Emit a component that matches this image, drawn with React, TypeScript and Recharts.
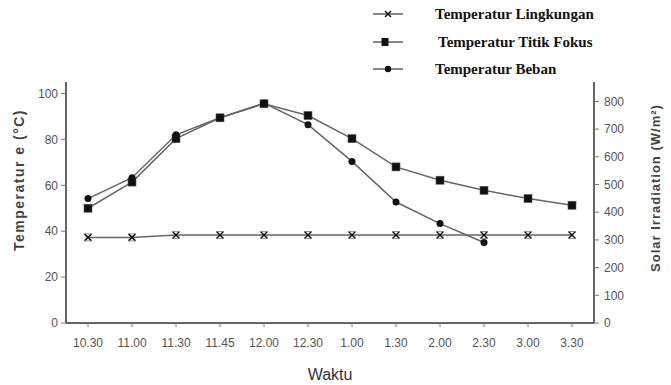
import React from 'react';
import { LineChart, Line, XAxis, YAxis, Legend } from 'recharts';

const categories = ['10.30', '11.00', '11.30', '11.45', '12.00', '12.30', '1.00', '1.30', '2.00', '2.30', '3.00', '3.30'];
const lingkungan = [37.3, 37.3, 38.3, 38.3, 38.3, 38.3, 38.3, 38.3, 38.3, 38.3, 38.3, 38.3];
const titikFokus = [50, 61.4, 80.3, 89.4, 95.5, 90.4, 80.3, 68, 62.2, 57.8, 54.2, 51.3];
const beban: (number | null)[] = [54.2, 63.3, 82, 89.4, 95.8, 86.4, 70.4, 52.7, 43.3, 35.1, null, null];
const leftTicks = [0, 20, 40, 60, 80, 100];
const rightTicks = [0, 100, 200, 300, 400, 500, 600, 700, 800];
const seriesNames = ['Temperatur Lingkungan', 'Temperatur Titik Fokus', 'Temperatur Beban'];

const data = categories.map((c, i) => ({
  waktu: c,
  lingkungan: lingkungan[i],
  titikFokus: titikFokus[i],
  beban: beban[i],
}));

const SANS = '"Liberation Sans", Arial, sans-serif';
const SERIF = '"Liberation Serif", "Times New Roman", serif';
const LINE = '#666';

const CrossDot = (p: any) => {
  const { cx, cy } = p;
  if (cx == null || cy == null || p.value == null) return <g key={p.key} />;
  const s = 3.5;
  return (
    <g key={p.key}>
      <line x1={cx - s} y1={cy - s} x2={cx + s} y2={cy + s} stroke="#111" strokeWidth={1.5} />
      <line x1={cx - s} y1={cy + s} x2={cx + s} y2={cy - s} stroke="#111" strokeWidth={1.5} />
      <line x1={cx - s} y1={cy - s} x2={cx + s} y2={cy - s} stroke="#777" strokeWidth={0.8} />
      <line x1={cx - s} y1={cy + s} x2={cx + s} y2={cy + s} stroke="#777" strokeWidth={0.8} />
    </g>
  );
};

const SquareDot = (p: any) => {
  const { cx, cy } = p;
  if (cx == null || cy == null || p.value == null) return <g key={p.key} />;
  return <rect key={p.key} x={cx - 4} y={cy - 4} width={8} height={8} fill="#111" stroke="#555" strokeWidth={0.6} />;
};

const CircleDot = (p: any) => {
  const { cx, cy } = p;
  if (cx == null || cy == null || p.value == null) return <g key={p.key} />;
  return <circle key={p.key} cx={cx} cy={cy} r={3.5} fill="#111" />;
};

const LegendContent = () => {
  const rows = [
    { y: 14, tx: 435, kind: 'x' },
    { y: 42, tx: 438, kind: 's' },
    { y: 69, tx: 435, kind: 'c' },
  ];
  return (
    <svg width={300} height={85} style={{ overflow: 'visible', display: 'block' }}>
      {rows.map((r, i) => {
        const mx = 388 - 365;
        const y = r.y;
        return (
          <g key={i}>
            <line x1={373 - 365} y1={y} x2={403 - 365} y2={y} stroke="#555" strokeWidth={1.4} />
            {r.kind === 'x' && (
              <g>
                <line x1={mx - 3} y1={y - 3} x2={mx + 3} y2={y + 3} stroke="#111" strokeWidth={1.4} />
                <line x1={mx - 3} y1={y + 3} x2={mx + 3} y2={y - 3} stroke="#111" strokeWidth={1.4} />
              </g>
            )}
            {r.kind === 's' && <rect x={mx - 3.5 - 3} y={y - 4} width={7} height={8} fill="#111" />}
            {r.kind === 'c' && <circle cx={mx} cy={y} r={3.2} fill="#111" />}
            <text
              x={r.tx - 365}
              y={y}
              dominantBaseline="central"
              fontFamily={SERIF}
              fontWeight="bold"
              fontSize={15}
              fill="#111"
            >
              {seriesNames[i]}
            </text>
          </g>
        );
      })}
    </svg>
  );
};

export default function App() {
  return (
    <div style={{ position: 'absolute', left: 0, top: 0, width: 671, height: 385, background: '#fff' }}>
      <LineChart width={671} height={385} data={data} margin={{ top: 82, right: 0, bottom: 0, left: 0 }}>
        <Legend
          layout="vertical"
          align="center"
          verticalAlign="middle"
          wrapperStyle={{ position: 'absolute', top: 0, left: 365, width: 300, height: 85 }}
          content={<LegendContent />}
        />
        <XAxis
          dataKey="waktu"
          height={62}
          padding={{ left: 22, right: 22 }}
          tickSize={4}
          tickMargin={11}
          stroke="#333"
          axisLine={{ stroke: '#333', strokeWidth: 1.5 }}
          tickLine={{ stroke: '#777' }}
          tick={{ fill: '#555', fontSize: 12, fontFamily: SANS }}
          interval={0}
          label={{
            content: () => (
              <text x={330} y={374} textAnchor="middle" dominantBaseline="central" fontFamily={SANS} fontSize={16} fill="#333">
                Waktu
              </text>
            ),
          }}
        />
        <YAxis
          yAxisId="left"
          orientation="left"
          width={66}
          domain={[0, 105]}
          ticks={leftTicks}
          tickSize={5}
          tickMargin={3}
          axisLine={{ stroke: '#333', strokeWidth: 1.5 }}
          tickLine={{ stroke: '#777' }}
          tick={{ fill: '#555', fontSize: 12, fontFamily: SANS }}
          label={{
            content: () => (
              <text
                x={19}
                y={180}
                transform="rotate(-90 19 180)"
                textAnchor="middle"
                dominantBaseline="central"
                fontFamily={SANS}
                fontWeight="bold"
                fontSize={14}
                letterSpacing={1.5}
                fill="#444"
              >
                Temperatur e (°C)
              </text>
            ),
          }}
        />
        <YAxis
          yAxisId="right"
          orientation="right"
          width={77}
          domain={[0, 870]}
          allowDataOverflow
          ticks={rightTicks}
          tickSize={5}
          tickMargin={5}
          axisLine={{ stroke: '#333', strokeWidth: 1.5 }}
          tickLine={{ stroke: '#777' }}
          tick={{ fill: '#555', fontSize: 12, fontFamily: SANS }}
          label={{
            content: () => (
              <text
                x={655}
                y={188}
                transform="rotate(-90 655 188)"
                textAnchor="middle"
                dominantBaseline="central"
                fontFamily={SANS}
                fontWeight="bold"
                fontSize={13}
                letterSpacing={1}
                fill="#444"
              >
                Solar Irradiation (W/m²)
              </text>
            ),
          }}
        />
        <Line
          yAxisId="right"
          dataKey="lingkungan"
          hide
          legendType="none"
          stroke="none"
          dot={false}
          activeDot={false}
          isAnimationActive={false}
        />
        <Line
          yAxisId="left"
          name={seriesNames[0]}
          dataKey="lingkungan"
          stroke={LINE}
          strokeWidth={1.5}
          dot={CrossDot}
          activeDot={false}
          isAnimationActive={false}
        />
        <Line
          yAxisId="left"
          name={seriesNames[1]}
          dataKey="titikFokus"
          stroke={LINE}
          strokeWidth={1.5}
          dot={SquareDot}
          activeDot={false}
          isAnimationActive={false}
        />
        <Line
          yAxisId="left"
          name={seriesNames[2]}
          dataKey="beban"
          stroke={LINE}
          strokeWidth={1.5}
          dot={CircleDot}
          activeDot={false}
          isAnimationActive={false}
        />
      </LineChart>
    </div>
  );
}
